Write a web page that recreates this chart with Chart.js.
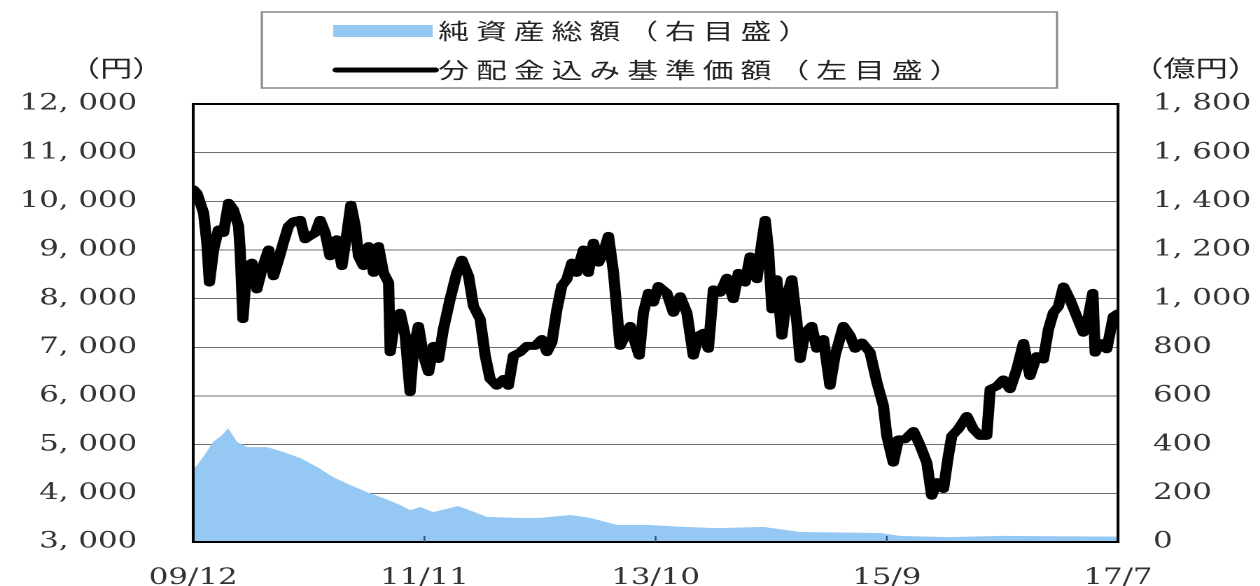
<!DOCTYPE html>
<html>
<head>
<meta charset="utf-8">
<script src="https://cdn.jsdelivr.net/npm/chart.js@4.4.1/dist/chart.umd.min.js"></script>
<style>
  html, body { margin: 0; padding: 0; background: #fff; overflow: hidden; }
  #wrap { width: 900px; height: 586px; transform: scaleX(1.4); transform-origin: 0 0; }
  #wrap canvas { display: block; }
</style>
</head>
<body>
<div id="wrap"><canvas id="chart" width="900" height="586"></canvas></div>
<script>
// x positions are in units of one label interval (09/12 = 0 ... 17/7 = 4)
const xTickLabels = ['09/12', '11/11', '13/10', '15/9', '17/7'];

// 分配金込み基準価額 (円, left axis)
const navX = [
  0.000, 0.016, 0.045, 0.059, 0.070, 0.088, 0.109, 0.131, 0.153, 0.174,
  0.196, 0.203, 0.215, 0.232, 0.254, 0.275, 0.297, 0.326, 0.347, 0.369,
  0.390, 0.412, 0.434, 0.463, 0.484, 0.506, 0.528, 0.549, 0.571, 0.592,
  0.621, 0.643, 0.665, 0.682, 0.701, 0.715, 0.736, 0.758, 0.780, 0.801,
  0.823, 0.845, 0.852, 0.874, 0.895, 0.917, 0.938, 0.953, 0.974, 0.996,
  1.018, 1.039, 1.061, 1.082, 1.111, 1.140, 1.162, 1.191, 1.212, 1.241,
  1.263, 1.284, 1.313, 1.342, 1.363, 1.385, 1.414, 1.443, 1.479, 1.508,
  1.530, 1.551, 1.573, 1.594, 1.616, 1.638, 1.659, 1.688, 1.709, 1.731,
  1.753, 1.774, 1.796, 1.818, 1.832, 1.846, 1.868, 1.890, 1.911, 1.929,
  1.947, 1.969, 1.990, 2.012, 2.048, 2.077, 2.106, 2.135, 2.163, 2.185,
  2.207, 2.228, 2.250, 2.279, 2.308, 2.336, 2.358, 2.387, 2.409, 2.438,
  2.459, 2.474, 2.488, 2.503, 2.524, 2.546, 2.567, 2.589, 2.611, 2.625,
  2.646, 2.675, 2.697, 2.726, 2.754, 2.776, 2.812, 2.841, 2.863, 2.892,
  2.927, 2.957, 2.985, 3.000, 3.028, 3.050, 3.079, 3.115, 3.144, 3.173,
  3.194, 3.216, 3.245, 3.266, 3.281, 3.309, 3.346, 3.374, 3.403, 3.432,
  3.447, 3.475, 3.504, 3.533, 3.562, 3.591, 3.619, 3.648, 3.677, 3.699,
  3.720, 3.742, 3.764, 3.792, 3.821, 3.850, 3.872, 3.891, 3.901, 3.922,
  3.951, 3.980, 4.000
];
const navY = [
  10250, 10170, 9760, 9150, 8330, 9000, 9420, 9350, 9970, 9830,
  9490, 9010, 7580, 8670, 8740, 8190, 8600, 9010, 8460, 8800,
  9150, 9490, 9590, 9620, 9220, 9290, 9350, 9620, 9350, 8870,
  9220, 8670, 9350, 9930, 9490, 8870, 8670, 9080, 8530, 9080,
  8530, 8330, 6900, 7640, 7710, 7240, 6080, 6970, 7440, 6830,
  6490, 7030, 6760, 7370, 7990, 8530, 8800, 8460, 7850, 7580,
  6830, 6350, 6210, 6350, 6210, 6830, 6900, 7030, 7030, 7170,
  6900, 7100, 7780, 8260, 8400, 8740, 8530, 9010, 8530, 9150,
  8740, 8940, 9290, 8530, 7780, 7030, 7240, 7440, 7100, 6830,
  7710, 8120, 7920, 8260, 8120, 7710, 8050, 7710, 6830, 7240,
  7300, 6970, 8190, 8120, 8430, 7990, 8530, 8330, 8870, 8400,
  9150, 9620, 9010, 7780, 8400, 7240, 8050, 8400, 7510, 6760,
  7300, 7440, 6970, 7170, 6210, 6830, 7440, 7240, 6970, 7100,
  6900, 6280, 5800, 5180, 4630, 5110, 5110, 5280, 4980, 4630,
  3950, 4230, 4090, 4770, 5180, 5320, 5590, 5320, 5180, 5180,
  6140, 6200, 6340, 6140, 6550, 7090, 6410, 6820, 6750, 7370,
  7710, 7840, 8250, 7980, 7640, 7300, 7640, 8120, 6890, 7090,
  6960, 7640, 7700
];

// 純資産総額 (億円, right axis)
const assetX = [
  0.000, 0.017, 0.043, 0.086, 0.125, 0.151, 0.190, 0.234, 0.320, 0.389,
  0.463, 0.536, 0.605, 0.679, 0.752, 0.822, 0.895, 0.938, 0.982, 1.038,
  1.146, 1.271, 1.401, 1.501, 1.630, 1.717, 1.834, 1.976, 2.119, 2.266,
  2.465, 2.625, 2.971, 3.057, 3.274, 3.490, 4.000
];
const assetY = [
  300, 316, 349, 411, 439, 468, 411, 390, 390, 370,
  345, 308, 267, 234, 205, 181, 152, 131, 144, 123,
  148, 103, 99, 99, 111, 99, 70, 70, 62, 57,
  62, 41, 37, 25, 20, 25, 22
];

const leftTicks = { min: 3000, max: 12000, step: 1000 };
const rightTicks = { min: 0, max: 1800, step: 200 };

function fmt(v) {
  if (v < 1000) return String(v);
  return Math.floor(v / 1000) + ', ' + String(v % 1000).padStart(3, '0');
}

const tickFont = { family: 'DejaVu Serif', size: 22 };

const decor = {
  id: 'decor',
  afterDatasetsDraw(chart) {
    const { ctx, chartArea: a, scales } = chart;
    ctx.save();
    ctx.strokeStyle = '#000';
    ctx.lineWidth = 2;
    ctx.strokeRect(a.left, a.top, a.right - a.left, a.bottom - a.top);
    ctx.strokeStyle = '#34506e';
    ctx.lineWidth = 1.2;
    for (let i = 1; i < xTickLabels.length - 1; i++) {
      const px = scales.x.getPixelForValue(i);
      ctx.beginPath();
      ctx.moveTo(px, a.bottom);
      ctx.lineTo(px, a.bottom - 6);
      ctx.stroke();
    }
    ctx.restore();
  },
  afterDraw(chart) {
    const ctx = chart.ctx;
    ctx.save();
    // legend box
    ctx.strokeStyle = '#888';
    ctx.lineWidth = 1.5;
    ctx.strokeRect(187, 12, 568, 76);
    ctx.fillStyle = '#96c8f4';
    ctx.fillRect(238, 25, 71, 12);
    ctx.strokeStyle = '#000';
    ctx.lineWidth = 5;
    ctx.lineCap = 'round';
    ctx.beginPath();
    ctx.moveTo(240, 70);
    ctx.lineTo(311, 70);
    ctx.stroke();

    ctx.fillStyle = '#222';
    ctx.textBaseline = 'middle';
    ctx.font = '22px "Noto Sans CJK JP"';
    ctx.letterSpacing = '5px';
    ctx.textAlign = 'left';
    ctx.fillText('純資産総額（右目盛）', 313, 31);
    ctx.fillText('分配金込み基準価額（左目盛）', 313, 70);

    // axis units
    ctx.letterSpacing = '0px';
    ctx.font = '23px "Noto Sans CJK JP"';
    ctx.textAlign = 'center';
    ctx.fillText('（円）', 83, 68);
    ctx.fillText('（億円）', 854, 68);
    ctx.restore();
  }
};

// fixed axis widths so the plot frame lands where the original has it
function fixY(width) {
  return s => { s.width = width; s.paddingTop = 0; s.paddingBottom = 0; };
}

const chart = new Chart(document.getElementById('chart'), {
  type: 'line',
  data: {
    datasets: [
      {
        label: '分配金込み基準価額（左目盛）',
        data: navX.map((x, i) => ({ x, y: navY[i] })),
        yAxisID: 'y',
        borderColor: '#000',
        borderWidth: 8,
        borderJoinStyle: 'round',
        borderCapStyle: 'round',
        pointRadius: 0,
        tension: 0,
        fill: false
      },
      {
        label: '純資産総額（右目盛）',
        data: assetX.map((x, i) => ({ x, y: assetY[i] })),
        yAxisID: 'y1',
        borderWidth: 0,
        backgroundColor: '#96c8f4',
        pointRadius: 0,
        tension: 0,
        fill: 'origin'
      }
    ]
  },
  options: {
    responsive: false,
    animation: false,
    devicePixelRatio: 2,
    layout: { padding: { top: 104, left: 0, right: 0, bottom: 0 } },
    plugins: { legend: { display: false }, tooltip: { enabled: false } },
    scales: {
      x: {
        type: 'linear',
        min: 0,
        max: xTickLabels.length - 1,
        grid: { display: false },
        border: { display: false },
        ticks: {
          stepSize: 1,
          autoSkip: false,
          maxRotation: 0,
          padding: 15,
          font: tickFont,
          color: '#333',
          callback: v => xTickLabels[v] ?? ''
        },
        afterFit: s => { s.height = 44; }
      },
      y: {
        position: 'left',
        min: leftTicks.min,
        max: leftTicks.max,
        grid: { color: '#6e6e6e', lineWidth: 1, drawTicks: false },
        border: { display: false },
        ticks: { stepSize: leftTicks.step, padding: 40, font: tickFont, color: '#333', callback: fmt },
        afterFit: fixY(138)
      },
      y1: {
        position: 'right',
        min: rightTicks.min,
        max: rightTicks.max,
        grid: { display: false, drawTicks: false },
        border: { display: false },
        ticks: { stepSize: rightTicks.step, padding: 25, font: tickFont, color: '#333', callback: fmt },
        afterFit: fixY(101.4)
      }
    }
  },
  plugins: [decor]
});
</script>
</body>
</html>
